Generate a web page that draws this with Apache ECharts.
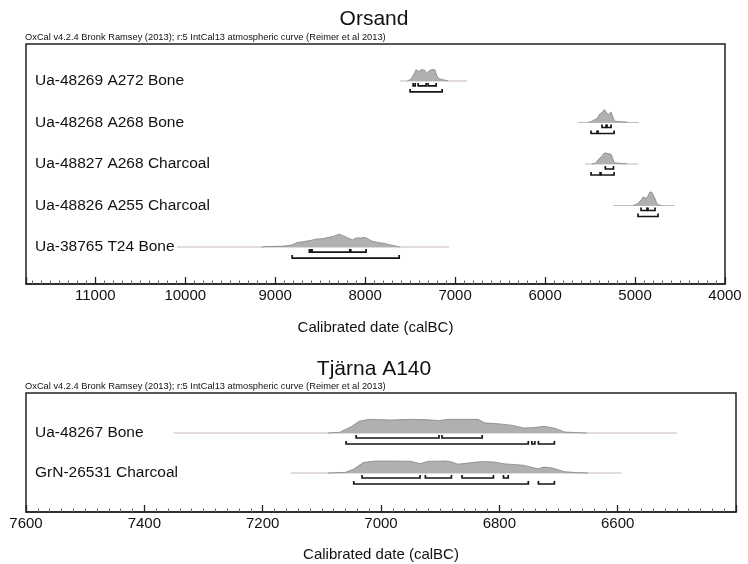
<!DOCTYPE html>
<html>
<head>
<meta charset="utf-8">
<script src="https://cdn.jsdelivr.net/npm/echarts@6/dist/echarts.min.js"></script>
<style>html,body{margin:0;padding:0;background:#fff}#c{width:748px;height:564px}</style>
</head>
<body>
<div id="c"></div>
<script>
// ---------------- DATA ----------------
const orsandTitle = 'Orsand';
const tjarnaTitle = 'Tjärna A140';
const oxcalHeader = 'OxCal v4.2.4 Bronk Ramsey (2013); r:5 IntCal13 atmospheric curve (Reimer et al 2013)';
const axisTitle = 'Calibrated date (calBC)';

const orsandSamples = ['Ua-48269 A272 Bone', 'Ua-48268 A268 Bone', 'Ua-48827 A268 Charcoal', 'Ua-48826 A255 Charcoal', 'Ua-38765 T24 Bone'];
const tjarnaSamples = ['Ua-48267 Bone', 'GrN-26531 Charcoal'];

// axis extents (cal BC)
const orsandAxis = { min: 4000, max: 11770, step: 1000 };
const tjarnaAxis = { min: 6400, max: 7600, step: 200 };

// full plotted range of each calibrated date (thin line)
const orsandSpan = [[7611, 6867], [5633, 4956], [5556, 4967], [5244, 4556], [10090, 7067]];
const tjarnaSpan = [[7350, 6500], [7153, 6593]];

// probability distributions: [year calBC, relative height]
const dUa48269 = [[7530,0],[7510,0.08],[7490,0.15],[7470,0.3],[7450,0.62],[7433,0.88],[7410,0.72],[7389,0.68],[7370,0.88],[7356,0.95],[7335,0.8],[7311,0.62],[7290,0.78],[7256,0.88],[7240,0.8],[7225,0.86],[7205,0.45],[7190,0.22],[7160,0.14],[7120,0.07],[7078,0]];
const dUa48268 = [[5520,0],[5500,0.15],[5480,0.1],[5455,0.2],[5440,0.15],[5420,0.3],[5400,0.6],[5370,0.75],[5340,1.0],[5320,0.85],[5300,0.6],[5285,0.75],[5267,0.8],[5245,0.7],[5228,0.1],[5215,0.05],[5150,0.05],[5090,0.03],[5080,0]];
const dUa48827 = [[5480,0],[5467,0.1],[5440,0.05],[5420,0.15],[5400,0.4],[5370,0.6],[5340,0.85],[5322,1.0],[5300,0.8],[5285,0.7],[5265,0.75],[5245,0.6],[5232,0.1],[5210,0.05],[5150,0.04],[5100,0.02],[5090,0]];
const dUa48826 = [[5020,0],[5000,0.05],[4970,0.15],[4950,0.3],[4930,0.45],[4911,0.65],[4890,0.55],[4867,0.55],[4850,0.85],[4833,1.05],[4810,1.0],[4790,0.88],[4770,0.4],[4756,0.1],[4720,0.02],[4700,0]];
const dUa38765 = [[9150,0],[9100,0.04],[9000,0.05],[8900,0.08],[8820,0.15],[8756,0.35],[8700,0.4],[8611,0.5],[8550,0.6],[8467,0.65],[8400,0.75],[8340,0.85],[8289,1.0],[8240,0.85],[8190,0.7],[8144,0.55],[8100,0.7],[8050,0.7],[8000,0.75],[7960,0.6],[7922,0.45],[7860,0.35],[7800,0.3],[7740,0.2],[7689,0.12],[7640,0.05],[7611,0]];
const dUa48267 = [[7090,0],[7070,0.05],[7050,0.5],[7037,0.9],[7020,1.05],[6983,1.0],[6950,1.05],[6920,1.02],[6903,0.95],[6886,1.05],[6860,1.05],[6836,1.05],[6825,0.78],[6800,0.7],[6780,0.6],[6758,0.38],[6740,0.42],[6724,0.52],[6705,0.35],[6690,0.08],[6670,0.03],[6652,0]];
const dGrN26531 = [[7090,0],[7060,0.05],[7046,0.3],[7030,0.8],[7010,0.92],[6980,0.92],[6950,0.9],[6934,0.72],[6920,0.9],[6890,0.92],[6881,0.85],[6870,0.68],[6850,0.78],[6830,0.88],[6810,0.85],[6790,0.7],[6760,0.6],[6735,0.32],[6724,0.46],[6710,0.38],[6690,0.1],[6670,0.03],[6650,0]];

const orsandDensity = [dUa48269, dUa48268, dUa48827, dUa48826, dUa38765];
const tjarnaDensity = [dUa48267, dGrN26531];

// 68.2% and 95.4% ranges [from, to] cal BC
const orsand68 = [
  [[7467,7444],[7411,7322],[7300,7211]],
  [[5367,5322],[5311,5267]],
  [[5330,5240]],
  [[4933,4867],[4856,4778]],
  [[8620,8600],[8590,8170],[8160,7990]]
];
const orsand95 = [
  [[7500,7144]],
  [[5489,5422],[5411,5233]],
  [[5489,5389],[5378,5233]],
  [[4967,4744]],
  [[8811,7622]]
];
const tjarna68 = [
  [[7042,6902],[6897,6829]],
  [[7032,6934],[6925,6881],[6863,6810],[6793,6785]]
];
const tjarna95 = [
  [[7059,6751],[6745,6740],[6734,6707]],
  [[7046,6751],[6734,6707]]
];

// ---------------- BUILD ----------------
const FONT = '"Liberation Sans", Arial, Helvetica, sans-serif';

function panelSeries(n, spans, dens, r68, r95, idx, amp) {
  const out = [];
  const bracketData = [];
  for (let i = 0; i < n; i++) {
    const base = n - i;
    out.push({
      type: 'line', xAxisIndex: idx, yAxisIndex: idx, z: 2,
      data: spans[i].map(x => [x, base]),
      symbol: 'none', silent: true,
      lineStyle: { color: '#c8b9b9', width: 1 }
    });
    out.push({
      type: 'line', xAxisIndex: idx, yAxisIndex: idx, z: 3,
      data: dens[i].map(p => [p[0], base + p[1] * amp]),
      symbol: 'none', silent: true,
      lineStyle: { color: '#858585', width: 0.8 },
      areaStyle: { color: '#b0b0b0', opacity: 1, origin: base }
    });
    r68[i].forEach(r => bracketData.push([r[0], r[1], base, 0]));
    r95[i].forEach(r => bracketData.push([r[0], r[1], base, 1]));
  }
  out.push({
    type: 'custom', xAxisIndex: idx, yAxisIndex: idx, z: 4, silent: true,
    encode: { x: [0, 1], y: 2 },
    data: bracketData,
    renderItem: function (params, api) {
      const b = api.value(2);
      const p1 = api.coord([api.value(0), b]);
      const p2 = api.coord([api.value(1), b]);
      const y = p1[1] + (api.value(3) ? 11 : 5);
      return {
        type: 'polyline',
        shape: { points: [[p1[0], y - 3], [p1[0], y], [p2[0], y], [p2[0], y - 3]] },
        style: { stroke: '#151515', lineWidth: 1.7, fill: null }
      };
    }
  });
  return out;
}

function xAxisCfg(idx, ax, hideMin, gap) {
  return {
    type: 'value', gridIndex: idx, inverse: true,
    min: ax.min, max: ax.max, interval: ax.step,
    axisLine: { lineStyle: { color: '#222', width: 1.5 } },
    axisTick: { inside: true, length: 7, lineStyle: { color: '#222', width: 1.3 } },
    minorTick: { show: true, splitNumber: 10, length: 3.5, lineStyle: { color: '#666', width: 1 } },
    splitLine: { show: false }, minorSplitLine: { show: false },
    axisLabel: { margin: 4, fontSize: 15, color: '#111', fontFamily: FONT,
      formatter: v => String(v),
      showMinLabel: !hideMin, showMaxLabel: hideMin },
    name: axisTitle, nameLocation: 'middle', nameGap: gap,
    nameTextStyle: { fontSize: 15, color: '#111', fontFamily: FONT }
  };
}

function yAxisCfg(idx, n, min, max, names) {
  const vals = [];
  for (let i = 0; i < n; i++) vals.push(n - i);
  return {
    type: 'value', gridIndex: idx, min: min, max: max,
    axisLine: { show: false }, axisTick: { show: false }, splitLine: { show: false },
    axisLabel: {
      inside: true, margin: 9, customValues: vals,
      formatter: v => names[n - Math.round(v)] || '',
      fontSize: 15.5, color: '#111', fontFamily: FONT, align: 'left'
    }
  };
}

const chart = echarts.init(document.getElementById('c'), null, { renderer: 'canvas' });
chart.setOption({
  animation: false,
  backgroundColor: '#fff',
  title: [
    { text: orsandTitle, left: 'center', top: 4, textStyle: { fontSize: 21, fontWeight: 'normal', color: '#111', fontFamily: FONT } },
    { text: oxcalHeader, left: 25, top: 33, padding: 0, textStyle: { fontSize: 9.3, fontWeight: 'normal', color: '#111', fontFamily: FONT } },
    { text: tjarnaTitle, left: 'center', top: 354, textStyle: { fontSize: 21, fontWeight: 'normal', color: '#111', fontFamily: FONT } },
    { text: oxcalHeader, left: 25, top: 382, padding: 0, textStyle: { fontSize: 9.3, fontWeight: 'normal', color: '#111', fontFamily: FONT } }
  ],
  grid: [
    { left: 26, right: 23, top: 44, bottom: 280, show: true, borderColor: '#222', borderWidth: 1.5, backgroundColor: 'transparent' },
    { left: 26, right: 12, top: 393, bottom: 52, show: true, borderColor: '#222', borderWidth: 1.5, backgroundColor: 'transparent' }
  ],
  xAxis: [xAxisCfg(0, orsandAxis, false, 36), xAxisCfg(1, tjarnaAxis, true, 35)],
  yAxis: [yAxisCfg(0, orsandSamples.length, 0.11, 5.89, orsandSamples), yAxisCfg(1, tjarnaSamples.length, 0.025, 3.0, tjarnaSamples)],
  series: [].concat(
    panelSeries(orsandSamples.length, orsandSpan, orsandDensity, orsand68, orsand95, 0, 0.313),
    panelSeries(tjarnaSamples.length, tjarnaSpan, tjarnaDensity, tjarna68, tjarna95, 1, 0.325)
  )
});
</script>
</body>
</html>
